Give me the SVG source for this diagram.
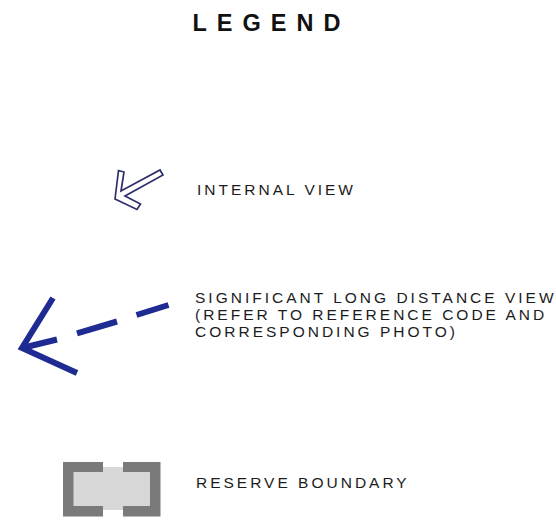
<svg xmlns="http://www.w3.org/2000/svg" width="556" height="529" viewBox="0 0 556 529">
  <style>
    .title { font-family: "Liberation Sans", Arial, sans-serif; font-size: 23.5px; font-weight: bold; letter-spacing: 10px; fill: #111; }
    .label { font-family: "Liberation Sans", Arial, sans-serif; font-size: 15.5px; letter-spacing: 3px; fill: #1c1c1c; }
    .view-dash { stroke: #1d2b93; stroke-width: 6; fill: none; stroke-linecap: butt; }
    .boundary-bar { fill: #7a7a7a; }
  </style>
  <rect width="556" height="529" fill="#ffffff"/>

  <text class="title" x="192.5" y="30.7">LEGEND</text>

  <!-- Internal view symbol -->
  <g id="internal-view">
    <polygon points="115,199 118.5,170.5 124,172 121,191 160,170 163,175 125,196 140.5,204 137,209.5"
             fill="#ffffff" stroke="#2b2f6b" stroke-width="1.7" stroke-linejoin="miter"/>
    <text class="label" x="197" y="195">INTERNAL VIEW</text>
  </g>

  <!-- Significant long distance view symbol -->
  <g id="long-distance-view">
    <g class="connectors">
      <line class="view-dash" x1="168.5" y1="305" x2="136.5" y2="315"/>
      <line class="view-dash" x1="117" y1="321.5" x2="77" y2="333.3"/>
      <line class="view-dash" x1="57" y1="339.5" x2="22" y2="348"/>
      <polyline class="view-dash" points="53,298 22,348 77,373" stroke-linejoin="miter"/>
    </g>
    <text class="label">
      <tspan x="195" y="302.6">SIGNIFICANT LONG DISTANCE VIEW</tspan>
      <tspan x="195" y="319.9">(REFER TO REFERENCE CODE AND</tspan>
      <tspan x="195" y="337.2">CORRESPONDING PHOTO)</tspan>
    </text>
  </g>

  <!-- Reserve boundary symbol -->
  <g id="reserve-boundary">
    <rect x="68" y="467" width="88" height="43" fill="#d7d7d7"/>
    <path class="boundary-bar" d="M103,462 H63 V516.5 H103 V506 H73.5 V472 H103 Z"/>
    <path class="boundary-bar" d="M123,462 H160.5 V516.5 H123 V506 H150 V472 H123 Z"/>
    <text class="label" x="196" y="488">RESERVE BOUNDARY</text>
  </g>
</svg>
